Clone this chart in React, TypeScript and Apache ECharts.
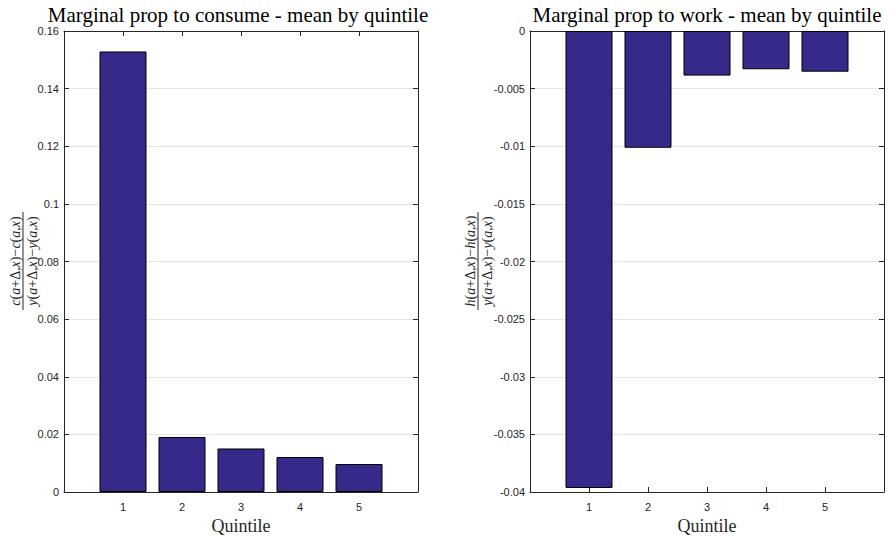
import React, { useEffect, useRef } from "react";
import * as echarts from "echarts";

// Mean marginal propensities by income quintile
const quintiles = [1, 2, 3, 4, 5];
const mpcMeans = [0.1529, 0.0191, 0.0151, 0.01215, 0.0097];
const mpwMeans = [-0.03965, -0.01013, -0.00387, -0.00332, -0.00353];

const leftTitle = "Marginal prop to consume - mean by quintile";
const rightTitle = "Marginal prop to work - mean by quintile";
const xName = "Quintile";

const AXIS = "#262626";
const BAR = "#35298a";
const SERIF = "'Liberation Serif', 'DejaVu Serif', serif";
const SANS = "'Liberation Sans', Arial, sans-serif";

// rich-text fraction pieces: italic variables, upright operators
const frac = (v: string) =>
  `{i|${v}}{n|(}{i|a}{n|+Δ,}{i|x}{n|)−}{i|${v}}{n|(}{i|a}{n|,}{i|x}{n|)}`;

const richStyles = {
  i: { fontFamily: SERIF, fontStyle: "italic", fontSize: 14, fill: AXIS },
  n: { fontFamily: SERIF, fontSize: 14, fill: AXIS },
};

function fraction(cx: number, cy: number, top: string) {
  return {
    type: "group",
    x: cx,
    y: cy,
    rotation: Math.PI / 2,
    children: [
      {
        type: "line",
        shape: { x1: -49, y1: 0, x2: 49, y2: 0 },
        style: { stroke: AXIS, lineWidth: 1 },
      },
      {
        type: "text",
        x: 0,
        y: -1,
        style: { text: frac(top), rich: richStyles, align: "center", verticalAlign: "bottom" },
      },
      {
        type: "text",
        x: 0,
        y: 2,
        style: { text: frac("y"), rich: richStyles, align: "center", verticalAlign: "top" },
      },
    ],
  };
}

const grids = [
  { left: 64, top: 31, width: 354, height: 461, outerBoundsMode: "none", containLabel: false },
  { left: 530, top: 31, width: 354, height: 461, outerBoundsMode: "none", containLabel: false },
];

function xAxes(gridIndex: number) {
  const common = {
    gridIndex,
    type: "value",
    min: 0,
    max: 6,
    interval: 1,
    axisLine: { show: true, onZero: false, lineStyle: { color: AXIS, width: 1 } },
    axisTick: { show: true, inside: true, length: 5, lineStyle: { color: AXIS } },
    splitLine: { show: false },
  };
  return [
    {
      ...common,
      position: "bottom",
      name: xName,
      nameLocation: "middle",
      nameGap: 18,
      nameTextStyle: { fontFamily: SERIF, fontSize: 18, color: AXIS },
      axisLabel: {
        show: true,
        margin: 9,
        fontFamily: SANS,
        fontSize: 11,
        color: AXIS,
        formatter: (v: number) => (v >= 1 && v <= 5 ? String(v) : ""),
      },
    },
    { ...common, position: "top", axisLabel: { show: false } },
  ];
}

function yAxes(gridIndex: number, min: number, max: number, interval: number) {
  const common = {
    gridIndex,
    type: "value",
    min,
    max,
    interval,
    axisLine: { show: true, onZero: false, lineStyle: { color: AXIS, width: 1 } },
    axisTick: { show: true, inside: true, length: 5, lineStyle: { color: AXIS } },
  };
  return [
    {
      ...common,
      position: "left",
      splitLine: { show: true, lineStyle: { color: "#e4e4e4", width: 1 } },
      axisLabel: {
        show: true,
        margin: 5,
        fontFamily: SANS,
        fontSize: 11,
        color: AXIS,
        formatter: (v: number) => String(+v.toFixed(4)),
      },
    },
    { ...common, position: "right", splitLine: { show: false }, axisLabel: { show: false } },
  ];
}

export default function App() {
  const ref = useRef<HTMLDivElement>(null);

  useEffect(() => {
    if (!ref.current) return;
    const chart = echarts.init(ref.current, undefined, { renderer: "svg" });

    const barStyle = { color: BAR, borderColor: "#000", borderWidth: 1 };

    chart.setOption({
      animation: false,
      backgroundColor: "#fff",
      grid: grids,
      xAxis: [...xAxes(0), ...xAxes(1)],
      yAxis: [...yAxes(0, 0, 0.16, 0.02), ...yAxes(1, -0.04, 0, 0.005)],
      series: [
        {
          type: "bar",
          xAxisIndex: 0,
          yAxisIndex: 0,
          barWidth: 47,
          itemStyle: barStyle,
          data: quintiles.map((q, i) => [q, mpcMeans[i]]),
        },
        {
          type: "bar",
          xAxisIndex: 2,
          yAxisIndex: 2,
          barWidth: 47,
          itemStyle: barStyle,
          data: quintiles.map((q, i) => [q, mpwMeans[i]]),
        },
      ],
      graphic: [
        {
          type: "text",
          x: 238,
          y: 15,
          style: {
            text: leftTitle,
            fontFamily: SERIF,
            fontSize: 21,
            fill: "#000",
            align: "center",
            verticalAlign: "middle",
          },
        },
        {
          type: "text",
          x: 707,
          y: 15,
          style: {
            text: rightTitle,
            fontFamily: SERIF,
            fontSize: 21,
            fill: "#000",
            align: "center",
            verticalAlign: "middle",
          },
        },
        fraction(23, 261, "c"),
        fraction(478, 261, "h"),
      ],
    });

    return () => chart.dispose();
  }, []);

  return (
    <div
      ref={ref}
      style={{ position: "fixed", left: 0, top: 0, width: 892, height: 536, background: "#fff" }}
    />
  );
}
